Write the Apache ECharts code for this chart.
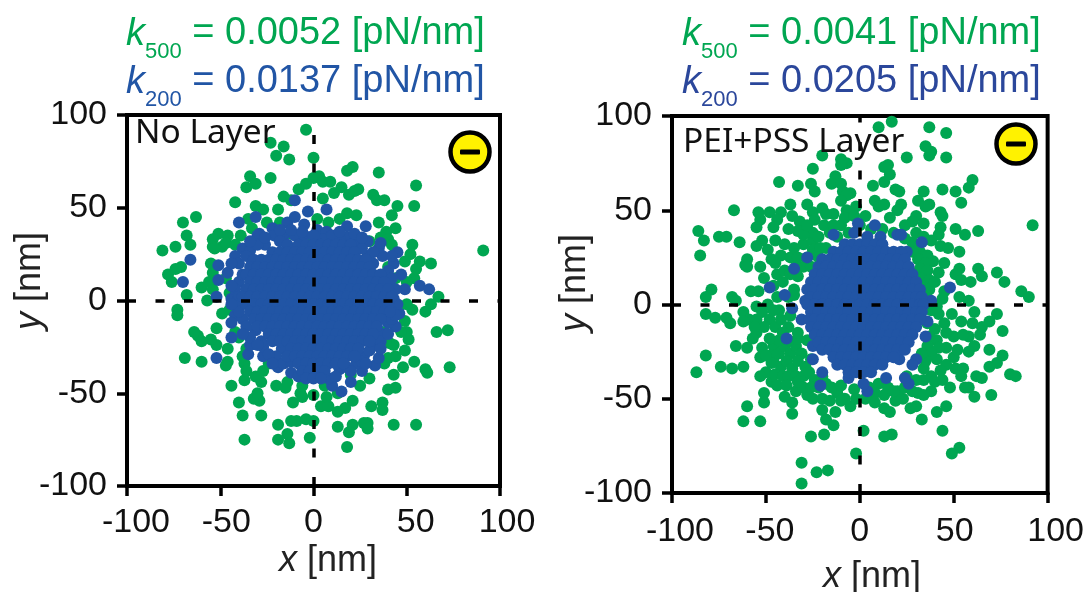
<!DOCTYPE html>
<html><head><meta charset="utf-8">
<style>html,body{margin:0;padding:0;background:#fff}#c{width:1087px;height:592px}</style>
<script src="https://cdn.jsdelivr.net/npm/echarts@6/dist/echarts.min.js"></script>
</head><body><div id="c"></div>
<script>
const axisTicks = ['-100','-50','0','50','100'];
const leftLabel = 'No Layer';
const rightLabel = 'PEI+PSS Layer';
const leftK = ['0.0052','0.0137'];
const rightK = ['0.0041','0.0205'];

const leftGreen = [[-4,92],[-23,85],[-16,83],[-20,78],[-13,76],[0,77],[21,72],[18,70],[35,69],[55,62],[-34,67],[-31,63],[-36,61],[-23,66],[0,66],[3,67],[-4,63],[-8,60],[5,64],[9,64],[15,61],[11,58],[24,60],[19,57],[22,59],[-16,56],[-12,54],[5,55],[32,57],[34,54],[38,54],[45,51],[54,51],[42,46],[-42,53],[-31,51],[-27,49],[-19,49],[-63,45],[-70,42],[-68,35],[-66,30],[-81,27],[-74,29],[-51,36],[-54,33],[-46,35],[-54,29],[-49,29],[-53,28],[-47,31],[-39,35],[-35,44],[-33,39],[18,47],[23,46],[35,42],[44,39],[39,37],[40,33],[53,30],[52,25],[57,21],[63,20],[49,21],[55,17],[54,12],[91,27],[67,2],[63,-2],[60,-6],[53,-5],[50,-2],[72,-16],[66,-17],[49,-11],[50,-17],[51,-21],[47,-17],[41,-23],[43,-24],[38,-17],[39,-21],[49,-27],[54,-33],[44,-30],[40,-31],[73,-36],[60,-37],[61,-39],[48,-36],[43,-40],[44,-47],[40,-48],[37,-55],[37,-59],[31,-57],[25,-46],[21,-54],[17,-58],[13,-60],[43,-67],[55,-67],[29,-66],[27,-66],[29,-69],[21,-67],[19,-71],[13,-68],[18,-79],[4,-57],[8,-57],[7,-52],[0,-65],[-4,-64],[-9,-65],[-12,-65],[-2,-74],[-19,-75],[-14,-72],[-13,-77],[-19,-67],[-37,-75],[-28,-62],[-38,-62],[-40,-55],[-44,-46],[-37,-43],[-29,-54],[-32,-53],[-30,-50],[-28,-44],[-11,-55],[-20,-46],[-15,-47],[-7,-50],[-6,-52],[0,-51],[13,-50],[-31,-41],[-27,-38],[-37,-34],[-38,-30],[-36,-26],[-46,-33],[-47,-35],[-60,-33],[-69,-31],[-46,-26],[-52,-24],[-55,-21],[-60,-22],[-62,-19],[-64,-17],[-52,-15],[-42,-17],[-49,-7],[-73,-5],[-73,-8],[-57,0],[-68,3],[-60,7],[-54,6],[-78,14],[-76,10],[-71,18],[-74,17],[-55,20],[-54,15],[-56,10],[-12,36],[-7,33],[2,44],[8,42],[14,44],[-2,33],[-18,42],[-25,42],[30,32],[36,34],[42,30],[44,26],[40,18],[44,12],[50,10],[-42,30],[-47,12],[-45,4],[-45,-5],[-40,-20],[-36,-38],[-24,-34],[-14,-44],[-6,-46],[6,-46],[20,-40],[30,-42],[38,-34],[42,-12],[46,-3]];
const leftBlue = [[-10,54],[-3,48],[7,49],[-40,42],[-31,45],[28,40],[29,32],[-66,22],[-70,10],[-51,19],[-51,11],[-52,2],[-44,1],[57,8],[62,6],[45,26],[43,20],[47,14],[49,6],[46,-7],[44,-14],[-44,-20],[-52,-31],[-35,-29],[-34,-24],[-27,-30],[-19,-36],[-12,-39],[10,-46],[15,-49],[20,-44],[26,-38],[33,-35],[35,-31],[-14,42],[-10,45],[-5,41],[-22,39],[-29,36],[-21,35],[-16,35],[-10,35],[2,38],[7,37],[18,40],[18,34],[12,31],[22,31],[35,28],[37,24],[29,24],[32,20],[-38,28],[-42,24],[-34,27],[-46,15],[-40,10],[-30,35],[-42,-8],[-38,-10],[-31,-16],[-27,-25],[-17,-26],[38,13],[41,8],[43,1],[39,-7],[34,-17],[32,-23],[27,-30],[23,-34],[14,-37],[-40,20],[-38,14],[-42,6],[-40,2],[-41,-3],[-40,-6],[-36,-14],[-34,-20],[-28,-22],[-33,20],[-36,24],[-26,30],[-30,30],[-18,32],[-14,30],[-5,35],[5,33],[14,33],[26,28],[32,26],[40,16],[42,12],[44,6],[45,-2],[42,-6],[40,-12],[38,-18],[36,-22],[30,-27],[26,-33],[-20,-30],[-24,-29],[-16,-34],[-12,-33],[-8,-41],[8,-42],[12,-41],[18,-36],[20,-38],[-26,34],[-18,38],[-12,38],[-6,37],[0,35],[4,30],[10,35],[14,37],[22,36],[26,34],[-34,32],[-44,20],[-44,8],[-44,-2],[-44,-12],[-38,-18],[-30,-24],[-22,-34],[28,-34],[36,-26],[40,-18],[42,-10],[44,-8],[42,24],[36,31]];
// dense blue mass, one row per y: [y, x, x, ...]
const leftBlueRows = [
[30,-8,-4,0,4,8,12,16,20],
[26,-22,-18,-14,-10,-6,-2,2,6,10,14,18,22],
[22,-32,-28,-24,-20,-16,-12,-8,-4,0,4,8,12,16,20,24,28],
[18,-34,-30,-26,-22,-18,-14,-10,-6,-2,2,6,10,14,18,22,26,30],
[14,-36,-32,-28,-24,-20,-16,-12,-8,-4,0,4,8,12,16,20,24,28,32,36],
[10,-34,-30,-26,-22,-18,-14,-10,-6,-2,2,6,10,14,18,22,26,30,34,38],
[6,-36,-32,-28,-24,-20,-16,-12,-8,-4,0,4,8,12,16,20,24,28,32,36,40],
[2,-38,-34,-30,-26,-22,-18,-14,-10,-6,-2,2,6,10,14,18,22,26,30,34,38,42],
[-2,-36,-32,-28,-24,-20,-16,-12,-8,-4,0,4,8,12,16,20,24,28,32,36,40],
[-6,-34,-30,-26,-22,-18,-14,-10,-6,-2,2,6,10,14,18,22,26,30,34,38,41],
[-10,-32,-28,-24,-20,-16,-12,-8,-4,0,4,8,12,16,20,24,28,32,36],
[-14,-30,-26,-22,-18,-14,-10,-6,-2,2,6,10,14,18,22,26,30,34],
[-18,-24,-20,-16,-12,-8,-4,0,4,8,12,16,20,24,28,32],
[-22,-22,-18,-14,-10,-6,-2,2,6,10,14,18,22,26,30],
[-26,-12,-8,-4,0,4,8,12,16,20,24],
[-30,-14,-10,-6,-2,2,6,10,14,18,22],
[-34,-8,-4,0,4,8,12,16],
[-38,-6,-2,2,6],
[-42,-4,0,4]
];

const rightGreen = [[17,97],[10,94],[37,94],[46,91],[35,84],[38,81],[37,79],[25,78],[46,78],[-20,79],[-10,77],[-7,75],[-10,74],[-25,72],[-13,68],[-15,64],[15,74],[13,73],[16,69],[13,65],[60,66],[58,62],[-43,65],[-33,63],[-26,64],[-24,60],[-10,64],[-9,60],[-5,59],[-7,58],[7,63],[19,61],[21,60],[34,60],[44,61],[51,60],[54,54],[-10,55],[8,55],[10,52],[13,53],[22,53],[20,50],[31,55],[37,53],[35,52],[16,46],[43,49],[44,47],[30,47],[28,44],[-67,50],[-54,49],[-48,49],[-53,45],[-55,41],[-42,49],[-37,53],[-36,47],[-44,45],[-46,41],[-32,44],[-33,39],[-38,40],[-28,53],[-25,49],[-20,51],[-14,48],[-24,45],[-19,42],[-10,42],[-7,50],[-2,52],[-86,39],[-83,34],[-85,26],[-75,36],[-71,36],[-64,33],[-52,34],[-45,34],[-49,29],[-40,32],[-30,32],[-42,26],[-37,25],[-25,34],[-25,29],[-21,30],[-60,24],[-61,21],[-60,20],[-53,20],[-51,14],[-45,22],[-44,16],[-40,18],[51,40],[56,37],[63,39],[92,42],[43,41],[42,37],[43,31],[47,30],[53,28],[45,22],[39,23],[53,19],[51,16],[54,13],[59,12],[63,19],[65,15],[73,17],[77,12],[86,7],[90,4],[45,7],[53,4],[58,2],[61,-4],[73,-5],[69,-9],[65,-12],[64,-16],[76,-14],[54,-9],[49,-5],[58,-17],[61,-22],[58,-25],[45,-10],[50,-17],[46,-23],[41,-29],[69,-24],[76,-27],[73,-31],[69,-33],[80,-37],[83,-38],[62,-38],[65,-39],[51,-34],[55,-34],[54,-38],[56,-44],[58,-44],[48,-44],[61,-49],[70,-48],[38,-38],[40,-41],[38,-46],[34,-40],[46,-54],[41,-57],[33,-61],[44,-67],[53,-76],[49,-79],[30,-54],[27,-55],[13,-55],[16,-57],[31,-47],[23,-50],[19,-51],[2,-67],[17,-69],[13,-70],[-2,-79],[-31,-84],[-23,-89],[-17,-88],[-31,-95],[-26,-70],[-19,-69],[-14,-64],[-18,-61],[-13,-57],[-20,-56],[-5,-54],[-8,-50],[-12,-47],[-28,-48],[-36,-52],[-36,-58],[-40,-49],[-34,-46],[-53,-62],[-62,-62],[-60,-54],[-51,-52],[-51,-47],[-50,-36],[-47,-41],[-53,-38],[-87,-36],[-74,-33],[-68,-34],[-62,-33],[-82,-27],[-66,-22],[-60,-23],[-53,-28],[-52,-23],[-46,-22],[-43,-26],[-40,-22],[-37,-26],[-34,-22],[-31,-26],[-46,-30],[-42,-33],[-39,-30],[-36,-34],[-33,-30],[-29,-33],[-45,-37],[-41,-38],[-38,-38],[-34,-38],[-30,-38],[-27,-36],[-43,-19],[-38,-19],[-33,-18],[-28,-19],[-48,-27],[-26,-29],[-24,-40],[-20,-38],[-22,-44],[-18,-42],[-15,-44],[-10,-43],[-3,-45],[32,28],[36,26],[31,24],[35,22],[32,19],[36,18],[32,14],[37,13],[33,10],[37,8],[30,30],[28,33],[36,-10],[40,-13],[37,-17],[41,-19],[36,-22],[42,-23],[38,-26],[35,-30],[33,-26],[5,-44],[10,-42],[15,-44],[20,-46],[24,-44],[8,-47],[13,-48],[25,-38],[30,-40],[-16,38],[-12,36],[-6,38],[0,42],[6,40],[12,40],[18,38],[24,35],[28,28],[-25,38],[-28,25],[-30,20],[-33,15],[-26,20],[-22,25],[-18,30],[-35,8],[-38,4],[-58,7],[-54,7],[-79,8],[-82,4],[-68,4],[-66,2],[-82,-5],[-77,-7],[-71,-7],[-69,-10],[-62,-4],[-59,-8],[-55,-8],[-55,-1],[-49,0],[-43,-3],[-48,-8],[-51,-12],[-55,-15],[-57,-18],[-48,-18],[-44,4],[-35,5],[-38,-12],[-33,-15],[-35,30],[-33,25],[-30,37],[-28,42],[-22,36],[-18,48],[-14,42],[-8,46],[-3,47],[3,47],[24,42],[30,38],[34,36],[38,34],[34,43],[-55,31],[-47,24],[-46,10],[-41,12],[-37,16],[-34,20],[-46,-3],[-52,-4],[-62,-9],[-56,-12],[-45,-12],[-42,-8],[-41,-15],[-37,-6],[-47,-31],[-50,-27],[-44,-43],[-39,-43],[-30,-44],[-26,-44],[-33,-41],[-25,-50],[-20,-50],[-16,-51],[-10,-51],[-2,-50],[3,-50],[8,-52],[18,-46],[28,-46],[34,-48],[44,-40],[46,-32],[50,-28],[46,-15],[42,-5],[41,-1],[44,3],[36,3],[40,12],[42,17],[38,-3],[34,-34],[43,-35],[55,-16],[52,-24],[60,-10]];
const rightBlue = [[-1,43],[8,42],[-14,37],[-3,38],[20,37],[22,37],[33,33],[-28,25],[-35,19],[-48,9],[-40,5],[-36,-2],[48,9],[38,2],[36,-9],[35,-17],[30,-29],[28,-32],[26,-42],[24,-39],[21,-29],[14,-39],[4,-46],[2,-42],[-6,-39],[-20,-36],[-21,-43],[-25,-29],[-25,-22],[-39,-18],[-31,-8],[-29,2],[25,28],[4,36],[11,36]];
const rightBlueRows = [
[32,-8,-4,0,4,8,12],
[28,-14,-10,-6,-2,2,6,10,14,18,22],
[24,-20,-16,-12,-8,-4,0,4,8,12,16,20,24],
[20,-22,-18,-14,-10,-6,-2,2,6,10,14,18,22,26],
[16,-24,-20,-16,-12,-8,-4,0,4,8,12,16,20,24,28],
[12,-26,-22,-18,-14,-10,-6,-2,2,6,10,14,18,22,26,30],
[8,-28,-24,-20,-16,-12,-8,-4,0,4,8,12,16,20,24,28,32],
[4,-26,-22,-18,-14,-10,-6,-2,2,6,10,14,18,22,26,30,33],
[0,-28,-24,-20,-16,-12,-8,-4,0,4,8,12,16,20,24,28,32,34],
[-4,-26,-22,-18,-14,-10,-6,-2,2,6,10,14,18,22,26,30,33],
[-8,-27,-24,-20,-16,-12,-8,-4,0,4,8,12,16,20,24,28,32],
[-12,-26,-22,-18,-14,-10,-6,-2,2,6,10,14,18,22,26,30],
[-16,-24,-20,-16,-12,-8,-4,0,4,8,12,16,20,24,28],
[-20,-22,-18,-14,-10,-6,-2,2,6,10,14,18,22,26],
[-24,-20,-16,-12,-8,-4,0,4,8,12,16,20,24],
[-28,-14,-10,-6,-2,2,6,10,14,18],
[-32,-12,-8,-4,0,4,8,12],
[-36,-6,-2,2,6]
];

const GREEN = '#00A651', BLUE = '#2155A5';
const FONT = 'Liberation Sans';
const expand = rows => rows.flatMap(r => r.slice(1).map(x => [x, r[0]]));

const gridL = {left:127, top:115, width:373, height:371};
const gridR = {left:672, top:116, width:377, height:377};

// shifts: label offset in px to the right of its tick, per tick
function axis(idx, margin, shifts) {
  const rich = {};
  axisTicks.forEach((t,i) => { rich['s'+i] = {fontSize:34, fontFamily:FONT, color:'#111', padding:[0,0,0,2*shifts[i]]}; });
  return {
    type:'value', gridIndex:idx, min:-100, max:100, interval:50,
    axisLine:{show:true, onZero:false, lineStyle:{color:'#000', width:4}},
    axisTick:{show:true, length:10, lineStyle:{color:'#000', width:3.5}},
    splitLine:{show:false},
    axisLabel:{margin, hideOverlap:false, showMinLabel:true, showMaxLabel:true, rich,
      formatter:v => { const i = axisTicks.indexOf(String(v)); return '{s'+i+'|'+axisTicks[i]+'}'; }}
  };
}
function dashSeries(idx) {
  return {type:'scatter', xAxisIndex:idx, yAxisIndex:idx, data:[], z:1, silent:true,
    markLine:{silent:true, symbol:'none', animation:false, label:{show:false},
      lineStyle:{color:'#000', width:3.5, type:[9,19.5]},
      data:[{xAxis:0},{yAxis:0}]}};
}
function pts(name, idx, data, color, z) {
  return {name, type:'scatter', xAxisIndex:idx, yAxisIndex:idx, data, symbol:'circle', symbolSize:12,
    itemStyle:{color, opacity:1}, z, animation:false, large:false};
}
function kTitle(left, top, sub, val, color) {
  return {left, top, text:'{k|k}{s|'+sub+'}{t| = '+val+' [pN/nm]}',
    textStyle:{fontWeight:'normal', rich:{
      k:{fontStyle:'italic', fontWeight:'normal', fontSize:38, fontFamily:FONT, color, lineHeight:40, verticalAlign:'bottom'},
      s:{fontWeight:'normal', fontSize:22, fontFamily:FONT, color, lineHeight:20, verticalAlign:'bottom', padding:[0,0,-10,0]},
      t:{fontWeight:'normal', fontSize:38, fontFamily:FONT, color, lineHeight:40, verticalAlign:'bottom'}
    }}};
}
function badge(cx, cy) {
  return [
    {type:'circle', z:50, shape:{cx, cy, r:19.5}, style:{fill:'#FFF200', stroke:'#000', lineWidth:4.5}},
    {type:'rect', z:51, shape:{x:cx-10, y:cy-2.5, width:20, height:5, r:1}, style:{fill:'#000'}}
  ];
}
function axisName(letter, x, y, rotated) {
  return {type:'text', z:52, x, y, rotation:rotated ? Math.PI/2 : 0,
    style:{text:'{i|'+letter+'}{n| [nm]}', align:'center', verticalAlign:'middle',
      rich:{i:{fontStyle:'italic', fontSize:36, fontFamily:FONT, fill:'#222'},
            n:{fontSize:36, fontFamily:FONT, fill:'#222'}}}};
}

const chart = echarts.init(document.getElementById('c'), null, {renderer:'canvas'});
chart.setOption({
  animation:false, backgroundColor:'#fff',
  title:[
    kTitle(121, 8, '500', leftK[0], GREEN),
    kTitle(121, 56, '200', leftK[1], BLUE),
    kTitle(677, 8, '500', rightK[0], GREEN),
    kTitle(677, 56, '200', rightK[1], '#2B479B')
  ],
  grid:[
    Object.assign({show:true, borderColor:'#000', borderWidth:4, backgroundColor:'transparent'}, gridL),
    Object.assign({show:true, borderColor:'#000', borderWidth:4, backgroundColor:'transparent'}, gridR)
  ],
  xAxis:[axis(0,20,[9,6,0,9,7]), axis(1,22,[8,4,0,1,8])],
  yAxis:[axis(0,20,[0,0,0,0,0]), axis(1,20,[0,0,0,0,0])],
  series:[
    dashSeries(0),
    pts('k500 No Layer',0,leftGreen,GREEN,2),
    pts('k200 No Layer',0,leftBlue.concat(expand(leftBlueRows)),BLUE,3),
    dashSeries(1),
    pts('k500 PEI+PSS Layer',1,rightGreen,GREEN,2),
    pts('k200 PEI+PSS Layer',1,rightBlue.concat(expand(rightBlueRows)),BLUE,3)
  ],
  graphic:[
    {type:'text', z:52, left:135, top:116, style:{text:leftLabel, font:'33.5px "Noto Sans"', fill:'#111'}},
    {type:'text', z:52, left:683, top:125, style:{text:rightLabel, font:'33.5px "Noto Sans"', fill:'#111'}},
    ...badge(470,152),
    ...badge(1016,144),
    axisName('x',328,561,false),
    axisName('x',872,577,false),
    axisName('y',30,281,true),
    axisName('y',575,283,true)
  ]
});
</script></body></html>
